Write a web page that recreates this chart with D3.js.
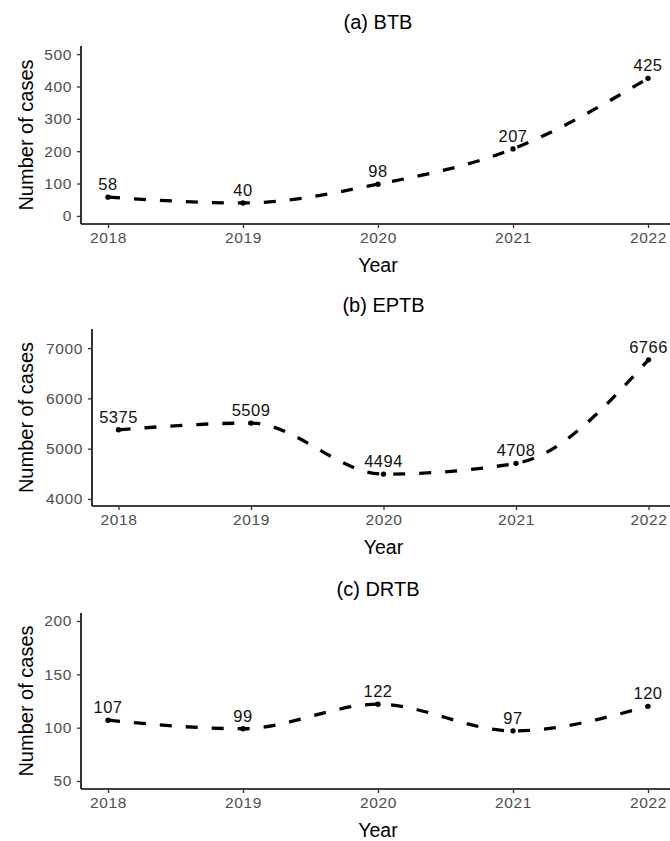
<!DOCTYPE html>
<html>
<head>
<meta charset="utf-8">
<script src="https://cdn.jsdelivr.net/npm/d3@7"></script>
<style>
  html, body { margin: 0; padding: 0; background: #fff; }
  svg { display: block; font-family: "Liberation Sans", Arial, sans-serif; }
</style>
</head>
<body>
<svg id="chart" width="670" height="841"></svg>
<script>
// ---- data ----
const years = [2018, 2019, 2020, 2021, 2022];
const btbCases = [58, 40, 98, 207, 425];
const eptbCases = [5375, 5509, 4494, 4708, 6766];
const drtbCases = [107, 99, 122, 97, 120];
const btbTicks = [0, 100, 200, 300, 400, 500];
const eptbTicks = [4000, 5000, 6000, 7000];
const drtbTicks = [50, 100, 150, 200];
const panelTitles = ["(a) BTB", "(b) EPTB", "(c) DRTB"];
const xTitle = "Year";
const yTitle = "Number of cases";

// ---- layout ----
const panels = [
  { title: panelTitles[0], values: btbCases, ticks: btbTicks, yDomain: [-25, 525],
    left: 81, top: 46, bottom: 224, titleY: 29 },
  { title: panelTitles[1], values: eptbCases, ticks: eptbTicks, yDomain: [3860, 7380],
    left: 92, top: 329, bottom: 506, titleY: 312 },
  { title: panelTitles[2], values: drtbCases, ticks: drtbTicks, yDomain: [42.5, 207.5],
    left: 81, top: 613, bottom: 789, titleY: 596 }
];

const svg = d3.select("#chart");

panels.forEach(p => {
  const g = svg.append("g");
  const plotRight = 675;
  const x = d3.scaleLinear().domain([2017.8, 2022.2]).range([p.left, plotRight]);
  const y = d3.scaleLinear().domain(p.yDomain).range([p.bottom, p.top]);

  // title
  g.append("text")
    .attr("x", (p.left + plotRight) / 2)
    .attr("y", p.titleY)
    .attr("text-anchor", "middle")
    .attr("font-size", 20)
    .attr("fill", "#000")
    .text(p.title);

  // x axis
  const xAxis = d3.axisBottom(x).tickValues(years).tickFormat(d3.format("d"))
    .tickSize(4).tickPadding(4);
  const gx = g.append("g").attr("transform", `translate(0,${p.bottom})`).call(xAxis);
  gx.select(".domain").attr("stroke", "#000").attr("stroke-width", 1.6)
    .attr("d", `M${p.left},0H${plotRight}`);
  gx.selectAll(".tick line").attr("stroke", "#333").attr("stroke-width", 1.3);
  gx.selectAll(".tick text").attr("fill", "#4d4d4d").attr("font-size", 15.5)
    .attr("letter-spacing", 0.6)
    .attr("font-family", "Liberation Sans, Arial, sans-serif");

  // y axis
  const yAxis = d3.axisLeft(y).tickValues(p.ticks).tickFormat(d3.format("d"))
    .tickSize(4).tickPadding(5);
  const gy = g.append("g").attr("transform", `translate(${p.left},0)`).call(yAxis);
  gy.select(".domain").attr("stroke", "#000").attr("stroke-width", 1.6)
    .attr("d", `M0,${p.top}V${p.bottom}`);
  gy.selectAll(".tick line").attr("stroke", "#333").attr("stroke-width", 1.3);
  gy.selectAll(".tick text").attr("fill", "#4d4d4d").attr("font-size", 15.5)
    .attr("letter-spacing", 0.6)
    .attr("font-family", "Liberation Sans, Arial, sans-serif");

  // axis titles
  g.append("text")
    .attr("x", x(2020))
    .attr("y", p.bottom + 48)
    .attr("text-anchor", "middle")
    .attr("font-size", 19.5)
    .text(xTitle);
  g.append("text")
    .attr("transform", `translate(33,${(p.top + p.bottom) / 2}) rotate(-90)`)
    .attr("text-anchor", "middle")
    .attr("font-size", 20)
    .text(yTitle);

  const pts = years.map((yr, i) => ({ yr, v: p.values[i] }));

  // dashed smooth line
  const line = d3.line().x(d => x(d.yr)).y(d => y(d.v)).curve(d3.curveMonotoneX);
  g.append("path")
    .datum(pts)
    .attr("d", line)
    .attr("fill", "none")
    .attr("stroke", "#000")
    .attr("stroke-width", 3.3)
    .attr("stroke-dasharray", "12,14");

  // points
  g.selectAll("circle.pt").data(pts).enter().append("circle")
    .attr("cx", d => x(d.yr)).attr("cy", d => y(d.v)).attr("r", 2.7)
    .attr("fill", "#000");

  // value labels
  g.selectAll("text.lbl").data(pts).enter().append("text")
    .attr("x", d => x(d.yr)).attr("y", d => y(d.v) - 7)
    .attr("text-anchor", "middle")
    .attr("font-size", 16.5)
    .attr("letter-spacing", 0.5)
    .attr("fill", "#111")
    .text(d => d.v);
});
</script>
</body>
</html>
